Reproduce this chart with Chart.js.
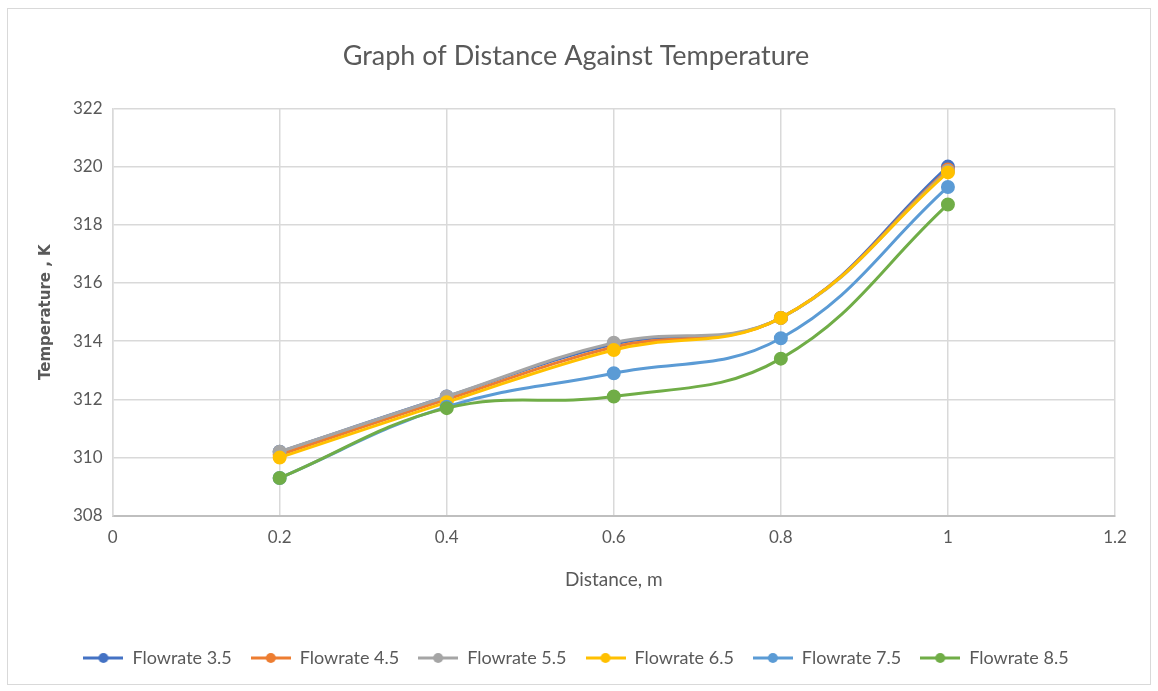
<!DOCTYPE html>
<html>
<head>
<meta charset="utf-8">
<script src="https://cdn.jsdelivr.net/npm/chart.js@4.4.1/dist/chart.umd.min.js"></script>
<style>
html,body{margin:0;padding:0;background:#fff;}
#wrap{position:absolute;left:0;top:0;width:1158px;height:691px;}
</style>
</head>
<body>
<div id="wrap"><canvas id="c" width="1158" height="691"></canvas></div>
<script>
const distances = [0.2, 0.4, 0.6, 0.8, 1.0];
const seriesNames = ["Flowrate 3.5", "Flowrate 4.5", "Flowrate 5.5", "Flowrate 6.5", "Flowrate 7.5", "Flowrate 8.5"];
const flow35 = [310.2, 312.1, 313.9, 314.8, 320.0];
const flow45 = [310.1, 312.0, 313.8, 314.8, 319.9];
const flow55 = [310.2, 312.1, 313.95, 314.8, 319.85];
const flow65 = [310.0, 311.9, 313.7, 314.8, 319.8];
const flow75 = [309.3, 311.75, 312.9, 314.1, 319.3];
const flow85 = [309.3, 311.7, 312.1, 313.4, 318.7];
const xTicks = [0, 0.2, 0.4, 0.6, 0.8, 1, 1.2];
const yTicks = [308, 310, 312, 314, 316, 318, 320, 322];

const seriesValues = [flow35, flow45, flow55, flow65, flow75, flow85];
const colors = ["#4472C4", "#ED7D31", "#A5A5A5", "#FFC000", "#5B9BD5", "#70AD47"];
const FONT = "Lato, 'Open Sans', sans-serif";

function legendIcon(color) {
  const cv = document.createElement('canvas');
  cv.width = 40; cv.height = 14;
  const g = cv.getContext('2d');
  g.strokeStyle = color; g.lineWidth = 3;
  g.beginPath(); g.moveTo(0, 7); g.lineTo(40, 7); g.stroke();
  g.fillStyle = color;
  g.beginPath(); g.arc(20, 7, 5, 0, Math.PI * 2); g.fill();
  return cv;
}

const datasets = seriesNames.map((name, i) => ({
  label: name,
  data: distances.map((d, j) => ({x: d, y: seriesValues[i][j]})),
  borderColor: colors[i],
  backgroundColor: colors[i],
  borderWidth: 3,
  pointRadius: 5.5,
  pointHoverRadius: 5.5,
  pointStyle: 'circle',
  legendIcon: legendIcon(colors[i]),
  showLine: true,
  tension: 0.4,
  cubicInterpolationMode: 'default',
  order: seriesNames.length - i
}));

const borderPlugin = {
  id: 'outerBorder',
  beforeDraw(chart) {
    const c = chart.ctx;
    c.save();
    c.fillStyle = '#fff';
    c.fillRect(0, 0, chart.width, chart.height);
    c.strokeStyle = '#d9d9d9';
    c.lineWidth = 1;
    c.strokeRect(7.5, 8.5, 1143, 676);
    c.restore();
  }
};

new Chart(document.getElementById('c'), {
  type: 'scatter',
  data: { datasets },
  plugins: [borderPlugin],
  options: {
    responsive: false,
    animation: false,
    layout: { padding: { left: 37, right: 43, top: 32, bottom: 14 } },
    plugins: {
      title: {
        display: true,
        text: 'Graph of Distance Against Temperature',
        color: '#595959',
        font: { family: FONT, size: 27, weight: 'normal' },
        padding: { top: 8, bottom: 36 }
      },
      legend: {
        position: 'bottom',
        labels: {
          color: '#595959',
          font: { family: FONT, size: 18 },
          usePointStyle: true,
          pointStyleWidth: 40,
          padding: 19,
          generateLabels(chart) {
            return chart.data.datasets.map((ds, i) => ({
              text: ds.label,
              fillStyle: ds.borderColor,
              strokeStyle: ds.borderColor,
              lineWidth: 0,
              pointStyle: ds.legendIcon,
              hidden: false,
              datasetIndex: i,
              fontColor: '#595959'
            }));
          }
        }
      },
      tooltip: { enabled: false }
    },
    scales: {
      x: {
        type: 'linear',
        min: 0, max: 1.2,
        afterBuildTicks(scale) { scale.ticks = xTicks.map(v => ({value: v})); },
        ticks: {
          color: '#595959',
          font: { family: FONT, size: 17 },
          padding: 12,
          callback: v => String(Math.round(v * 10) / 10)
        },
        grid: { color: '#d9d9d9', lineWidth: 1.5, drawTicks: false },
        border: { color: '#bfbfbf', width: 2 },
        title: {
          display: true,
          text: 'Distance, m',
          color: '#595959',
          font: { family: FONT, size: 19 },
          padding: { top: 8, bottom: 39 }
        }
      },
      y: {
        type: 'linear',
        min: 308, max: 322,
        afterBuildTicks(scale) { scale.ticks = yTicks.map(v => ({value: v})); },
        ticks: {
          color: '#595959',
          font: { family: FONT, size: 17 },
          padding: 10
        },
        grid: { color: '#d9d9d9', lineWidth: 1.5, drawTicks: false },
        border: { color: '#d9d9d9', width: 1.5 },
        title: {
          display: true,
          text: 'Temperature , K',
          color: '#595959',
          font: { family: "'DejaVu Sans', Verdana, sans-serif", size: 15, weight: 'bold' },
          padding: { top: 0, bottom: 8 }
        }
      }
    }
  }
});
</script>
</body>
</html>
